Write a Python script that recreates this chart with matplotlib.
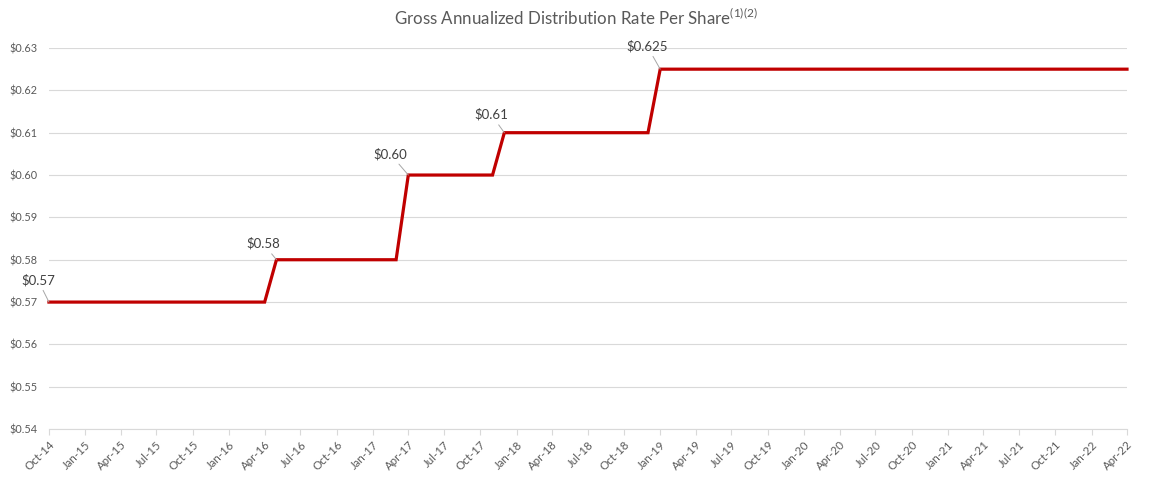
import matplotlib
matplotlib.use("Agg")
import matplotlib.pyplot as plt
import matplotlib.dates as mdates
import matplotlib.ticker as mticker
import pandas as pd

plt.rcParams['font.family'] = ['Lato', 'DejaVu Sans']
plt.rcParams['mathtext.fontset'] = 'custom'
plt.rcParams['mathtext.rm'] = 'Lato'
plt.rcParams['mathtext.default'] = 'regular'

# vertices of the step line (monthly data, rate changes)
dates = pd.to_datetime(['2014-10-01', '2016-04-01', '2016-05-01', '2017-03-01', '2017-04-01',
                        '2017-11-01', '2017-12-01', '2018-12-01', '2019-01-01', '2022-04-01'])
rates = [0.57, 0.57, 0.58, 0.58, 0.60, 0.60, 0.61, 0.61, 0.625, 0.625]

# labelled points and label offsets (pixels)
label_dates = pd.to_datetime(['2014-10-01', '2016-05-01', '2017-04-01', '2017-12-01', '2019-01-01'])
label_rates = [0.57, 0.58, 0.60, 0.61, 0.625]
label_text = ['$0.57', '$0.58', '$0.60', '$0.61', '$0.625']
label_offsets = [(-11, 22), (-13, 16), (-18, 21), (-13, 18), (-13, 23)]

grey = '#595959'

fig = plt.figure(figsize=(11.52, 4.8), dpi=100)
ax = fig.add_axes([0.0425, 0.106, 0.9358, 0.794])

ax.plot(dates, rates, color='#c00000', lw=2.3, solid_joinstyle='miter', zorder=3, clip_on=False)

for d, r, t, off in zip(label_dates, label_rates, label_text, label_offsets):
    ax.annotate(t, xy=(d, r), xytext=off, textcoords='offset pixels',
                ha='center', va='center', fontsize=9.5, color='#404040',
                arrowprops=dict(arrowstyle='-', color='#a6a6a6', lw=0.7,
                                shrinkA=1, shrinkB=0))

ax.set_ylim(0.54, 0.63)
ax.set_xlim(pd.Timestamp('2014-10-01'), pd.Timestamp('2022-04-01'))
ax.yaxis.set_major_locator(mticker.MultipleLocator(0.01))
ax.yaxis.set_major_formatter(mticker.FuncFormatter(lambda v, p: '$%.2f' % v))
ax.xaxis.set_major_locator(mdates.MonthLocator(bymonth=[1, 4, 7, 10]))
ax.xaxis.set_major_formatter(mdates.DateFormatter('%b-%y'))

ax.grid(axis='y', color='#d9d9d9', lw=0.8)
ax.set_axisbelow(True)
for s in ['top', 'right', 'left']:
    ax.spines[s].set_visible(False)
ax.spines['bottom'].set_color('#d9d9d9')
ax.tick_params(axis='y', length=0, labelsize=7.8, labelcolor=grey, pad=8)
ax.tick_params(axis='x', length=4, color='#d9d9d9', labelsize=8.3, labelcolor=grey, pad=3)
for lab in ax.get_xticklabels():
    lab.set_rotation(45)
    lab.set_ha('right')
    lab.set_rotation_mode('anchor')

fig.text(0.5, 0.963, 'Gross Annualized Distribution Rate Per Share$^{(1)(2)}$',
         ha='center', va='center', fontsize=12.2, color=grey)

fig.savefig('out.png', dpi=100)
